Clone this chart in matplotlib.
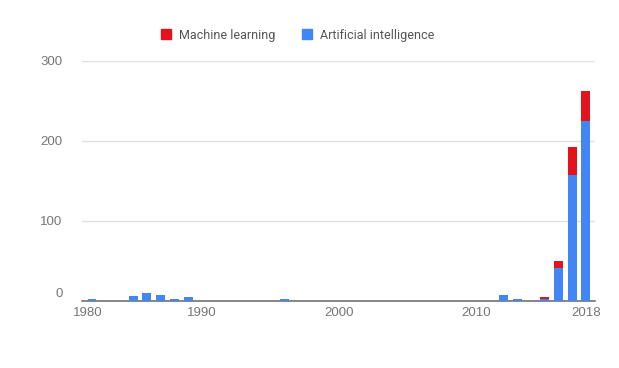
import matplotlib.pyplot as plt
from matplotlib.patches import Patch
from matplotlib.transforms import ScaledTranslation

# Publications per year
years = [1982, 1985, 1986, 1987, 1988, 1989, 1996, 2003, 2007, 2012, 2013, 2015, 2016, 2017, 2018]
ai = [2, 6, 10, 7, 3, 5, 3, 0.5, 0.5, 7, 3, 3, 41, 157, 225]
ml = [0, 0, 0, 0, 0, 0, 0, 0, 0, 0, 0, 2, 9, 35, 37]

tick_years = [1981.7, 1990, 2000, 2010, 2018]
tick_labels = ['1980', '1990', '2000', '2010', '2018']
y_ticks = [0, 100, 200, 300]

blue = '#4285F4'
red = '#E3121C'
gray_text = '#757575'

fig = plt.figure(figsize=(6.19, 3.68), dpi=100)
ax = fig.add_axes([82 / 619, 1 - 301 / 368, (595 - 82) / 619, 240.5 / 368])

ax.bar(years, ai, width=0.65, color=blue, zorder=3)
ax.bar(years, ml, width=0.65, bottom=ai, color=red, zorder=3)

ax.set_xlim(1981.27, 2018.66)
ax.set_ylim(0, 300.6)

ax.set_yticks(y_ticks)
ax.set_yticklabels([str(v) for v in y_ticks], family='Liberation Sans', fontsize=9.5, color=gray_text)
ax.set_xticks(tick_years)
ax.set_xticklabels(tick_labels, family='Liberation Sans', fontsize=9.5, color=gray_text)
ax.tick_params(axis='both', length=0)
ax.tick_params(axis='y', pad=14)
ax.tick_params(axis='x', pad=4)
# the "0" label sits a little above the baseline
zero_label = ax.get_yticklabels()[0]
zero_label.set_transform(zero_label.get_transform() + ScaledTranslation(0, 6 / 72, fig.dpi_scale_trans))

ax.grid(axis='y', color='#e0e0e0', linewidth=1, zorder=0)
for s in ['top', 'right', 'left']:
    ax.spines[s].set_visible(False)
ax.spines['bottom'].set_color('#666666')
ax.spines['bottom'].set_linewidth(1.1)
ax.spines['bottom'].set_zorder(2)

handles = [Patch(color=red, label='Machine learning'),
           Patch(color=blue, label='Artificial intelligence')]
fig.legend(handles=handles, loc='center left', bbox_to_anchor=(150 / 619, 1 - 35 / 368),
           ncol=2, frameon=False, handlelength=0.8, handleheight=0.8,
           handletextpad=0.65, columnspacing=2.1,
           prop={'family': 'Roboto', 'size': 9}, labelcolor='#555555')

fig.savefig('out.png', dpi=100, facecolor='white')
